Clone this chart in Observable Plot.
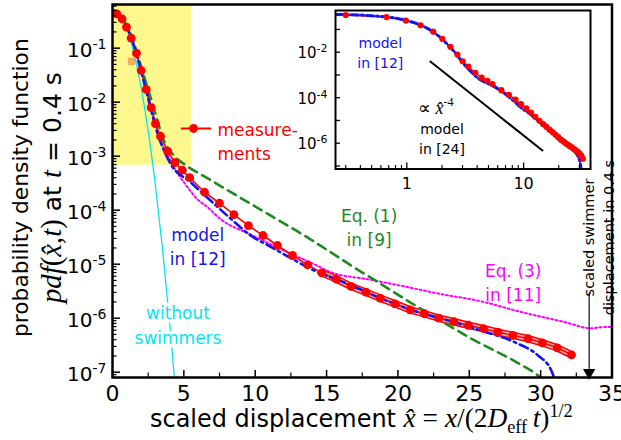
<!DOCTYPE html>
<html><head><meta charset="utf-8">
<script src="https://cdn.jsdelivr.net/npm/d3@7"></script>
<script src="https://cdn.jsdelivr.net/npm/@observablehq/plot@0.6"></script>
<style>
body{margin:0;background:#fff;}
#wrap{position:relative;width:621px;height:440px;}
#inset{position:absolute;left:290px;top:0;}
text{white-space:pre;}
</style></head><body>
<div id="wrap"><div id="main"></div><div id="inset"></div></div>
<script>
// ---------- data ----------
const measX = [0.30,0.67,0.98,1.31,1.68,2.01,2.36,2.71,3.01,3.36,3.86,4.37,4.89,5.41,6.45,7.49,8.51,9.52,10.55,11.56,12.61,13.67,14.67,15.69,16.71,17.76,18.76,19.80,20.85,21.85,22.87,23.92,24.94,26.00,27.00,28.06,29.11,30.12,31.17,32.16];
const measPdf = [0.43,0.35,0.245,0.153,0.081,0.0386,0.0172,0.0079,0.0040,0.00234,0.00124,7.6e-4,5.5e-4,4.0e-4,2.15e-4,1.35e-4,8.3e-5,5.2e-5,3.4e-5,2.22e-5,1.45e-5,9.7e-6,6.9e-6,5.3e-6,3.9e-6,3.03e-6,2.35e-6,1.85e-6,1.43e-6,1.21e-6,1.0e-6,8.6e-7,7.4e-7,6.4e-7,5.5e-7,4.8e-7,4.2e-7,3.5e-7,2.83e-7,2.1e-7];

const eq1X = [0,0.5,1.0,1.5,1.84,2.3,2.66,3.1,3.6,4.3,5.24,6.52,8.0,10.86,13.0,15.3,16.71,18.81,20.5,22.32,25.13,28.41,29.82,30.5];
const eq1Pdf = [0.50,0.42,0.26,0.126,0.064,0.025,0.0124,0.005,1.95e-3,1.03e-3,6.5e-4,4.1e-4,2.4e-4,8.6e-5,4.0e-5,1.66e-5,9.5e-6,4.3e-6,2.25e-6,1.15e-6,4.2e-7,1.48e-7,8.7e-8,6.0e-8];

const model12X = [0,0.25,0.5,1.0,1.5,2.0,2.54,3.13,3.6,4.07,5.47,6.87,8.3,9.68,11.1,12.5,13.9,16.7,18.8,20.85,23.96,25.83,28.17,29.82,30.75,31.1];
const model12Pdf = [0.50,0.46,0.40,0.245,0.112,0.038,0.0107,2.75e-3,1.29e-3,7.2e-4,3.3e-4,1.51e-4,6.9e-5,3.4e-5,2.1e-5,1.29e-5,8.2e-6,4.1e-6,2.34e-6,1.45e-6,8.4e-7,5.9e-7,3.6e-7,2.04e-7,1.07e-7,6.0e-8];

const eq3X = [0,1.0,2.0,2.7,3.3,3.83,4.30,5.24,5.94,6.64,7.58,9.68,11.8,14.13,15.31,18.0,20.2,23.0,25.84,28.41,31.66,33.56,34.2,35.0];
const eq3Pdf = [0.52,0.245,0.040,8.3e-3,2.2e-3,1.1e-3,6.3e-4,2.7e-4,1.6e-4,1.15e-4,6.8e-5,3.55e-5,1.9e-5,1.0e-5,7.1e-6,5.2e-6,4.0e-6,2.8e-6,2.05e-6,1.35e-6,8.5e-7,6.5e-7,6.8e-7,6.9e-7];

const noSwimX = [0,0.5,1.0,1.5,2.0,2.5,3.0,3.5,4.0,4.5];
const noSwimPdf = [0.54,0.44,0.235,0.083,0.019,2.95e-3,2.95e-4,2.0e-5,8.7e-7,2.5e-8];

const slopeX = [1.59,14.5];          // inset: proportional to x^-4
const slopePdf = [3.9e-3,4.8e-7];

const highlightX = [0,5.56];          // yellow region
const highlightPdf = [6.8e-4,0.644];
const swimmerDisp = [33.4];           // scaled swimmer displacement in 0.4 s
const bandStart = 14.6;               // start of the shaded uncertainty band

const xTicks = [0,5,10,15,20,25,30,35];
const xTickLabels = ["0","5","10","15","20","25","30","35"];
const xMinor = [2.5,7.5,12.5,17.5,22.5,27.5,32.5];
const yTicks = [1e-1,1e-2,1e-3,1e-4,1e-5,1e-6,1e-7];
const yTickLabels = ["10^-1","10^-2","10^-3","10^-4","10^-5","10^-6","10^-7"];
const insetXTicks = [1,10];
const insetXTickLabels = ["1","10"];
const insetYTicks = [1e-2,1e-4,1e-6];
const insetYTickLabels = ["10^-2","10^-4","10^-6"];
const insetYDecades = [1e-1,1e-2,1e-3,1e-4,1e-5,1e-6,1e-7];

// ---------- build tables ----------
const zip = (xs, ys) => xs.map((x, i) => ({x, y: ys[i]}));
const meas = zip(measX, measPdf);
const eq1 = zip(eq1X, eq1Pdf);
const model12 = zip(model12X, model12Pdf);
const eq3 = zip(eq3X, eq3Pdf);
const noSwim = zip(noSwimX, noSwimPdf);
const slope = zip(slopeX, slopePdf);
const band = meas.filter(d => d.x >= bandStart);

const RED = "#ff0000", BLUE = "#1414f0", GREEN = "#1f8a1f", MAG = "#ff00ff", CYAN = "#00e8ee";

const W = 621, H = 440, mL = 112, mR = 9.5, mT = 4, mB = 63;
const plotW = W - mL - mR, plotH = H - mT - mB;
const xDomain = [0, 35];
const yDomain = [7.98e-8, 0.644];
const yMinor = d3.scaleLog().domain(yDomain).ticks().filter(v => !yTicks.some(t => Math.abs(v - t) / t < 1e-6));

const main = Plot.plot({
  width: W, height: H, marginLeft: mL, marginRight: mR, marginTop: mT, marginBottom: mB,
  style: {fontFamily: "DejaVu Sans", background: "white", overflow: "visible"},
  x: {domain: xDomain, axis: null},
  y: {type: "log", domain: yDomain, axis: null},
  marks: [
    Plot.rect([0], {x1: highlightX[0], x2: highlightX[1], y1: highlightPdf[0], y2: highlightPdf[1], fill: "#fcf88d"}),
    Plot.dot([0], {x: 1.33, y: 0.057, symbol: "square", r: 3.6, fill: "#f4ac62", stroke: "#e98a3a", strokeWidth: 0.6}),
    Plot.line(noSwim, {x: "x", y: "y", stroke: CYAN, strokeWidth: 1.3, curve: "natural", clip: true}),
    Plot.text(["without\nswimmers"], {x: 4.59, y: 7.98e-7, fill: CYAN, fontSize: 17, lineHeight: 1.45, stroke: "white", strokeWidth: 7, paintOrder: "stroke"}),
    Plot.line(eq3, {x: "x", y: "y", stroke: MAG, strokeWidth: 2, strokeDasharray: "2,2.5", clip: true, curve: "monotone-x"}),
    Plot.line(band, {x: "x", y: "y", stroke: RED, strokeWidth: 7.5, strokeLinecap: "round", clip: true}),
    Plot.line(band, {x: "x", y: "y", stroke: "#f6b4b4", strokeWidth: 4.5, strokeLinecap: "round", clip: true}),
    Plot.line(meas, {x: "x", y: "y", stroke: RED, strokeWidth: 1.6, clip: true}),
    Plot.line(eq1, {x: "x", y: "y", stroke: GREEN, strokeWidth: 2.6, strokeDasharray: "9,6", clip: true, curve: "monotone-x"}),
    Plot.line(model12, {x: "x", y: "y", stroke: BLUE, strokeWidth: 2.6, strokeDasharray: "9,4,2.5,4", clip: true, curve: "monotone-x"}),
    Plot.dot(meas, {x: "x", y: "y", r: 4.4, fill: RED}),
    // legend sample for the measurements
    Plot.line([4.84, 6.87], {x: d => d, y: () => 3.26e-3, stroke: RED, strokeWidth: 1.8}),
    Plot.dot([5.68], {x: d => d, y: () => 3.26e-3, r: 4.4, fill: RED}),
    Plot.text(["measure-\nments"], {x: 7.36, y: 1.95e-3, textAnchor: "start", fill: RED, fontSize: 17, lineHeight: 1.42}),
    Plot.text(["model\nin [12]"], {x: 5.97, y: 2.22e-5, fill: BLUE, fontSize: 17, lineHeight: 1.42}),
    Plot.text(["Eq. (1)\nin [9]"], {x: 17.98, y: 5.09e-5, fill: GREEN, fontSize: 17, lineHeight: 1.42}),
    Plot.text(["Eq. (3)\nin [11]"], {x: 28.08, y: 4.89e-6, fill: MAG, fontSize: 17, lineHeight: 1.42}),
    // swimmer displacement arrow
    Plot.ruleX(swimmerDisp, {x: d => d, y1: 2.9e-6, y2: yDomain[0], stroke: "#222", strokeWidth: 1.3}),
    Plot.dot(swimmerDisp, {x: d => d, y: () => yDomain[0], symbol: "triangle", r: 4.6, fill: "black", rotate: 180, dy: -5}),
    Plot.text(["scaled swimmer\ndisplacement in 0.4 s"], {x: 33.97, y: 3.12e-5, rotate: -90, fontSize: 14.5, lineHeight: 1.38, fill: "black"}),
    // ticks (inward)
    Plot.tickY(yTicks, {y: d => d, insetRight: plotW - 8, strokeWidth: 1.5}),
    Plot.tickY(yMinor, {y: d => d, insetRight: plotW - 4.5, strokeWidth: 1.2}),
    Plot.tickX(xTicks, {x: d => d, insetTop: plotH - 7, strokeWidth: 1.5}),
    Plot.tickX(xMinor, {x: d => d, insetTop: plotH - 4.5, strokeWidth: 1.2}),
    Plot.frame({stroke: "black", strokeWidth: 2.5}),
    Plot.text(yTickLabels, {y: (d, i) => yTicks[i], frameAnchor: "left", textAnchor: "end", dx: -6, dy: 2, fontSize: 20, fill: "black"}),
    Plot.text(xTickLabels, {x: (d, i) => xTicks[i], frameAnchor: "bottom", lineAnchor: "top", dy: 8, fontSize: 22, fill: "black"})
  ]
});
document.getElementById("main").appendChild(main);

const insX = [0.245, 37.4], insY = [7.35e-8, 0.681];
const insW = 310, insH = 200, iL = 45, iR = 10, iT = 10, iB = 31.5;
const insMinorX = d3.scaleLog().domain(insX).ticks().filter(v => !insetXTicks.some(t => Math.abs(v - t) / t < 1e-6));

const inset = Plot.plot({
  width: insW, height: insH, marginLeft: iL, marginRight: iR, marginTop: iT, marginBottom: iB,
  style: {fontFamily: "DejaVu Sans", background: "transparent", overflow: "visible"},
  x: {type: "log", domain: insX, axis: null},
  y: {type: "log", domain: insY, axis: null},
  marks: [
    Plot.frame({fill: "white"}),
    Plot.line(band, {x: "x", y: "y", stroke: RED, strokeWidth: 5, strokeLinecap: "round", clip: true}),
    Plot.line(meas, {x: "x", y: "y", stroke: RED, strokeWidth: 1.3, clip: true}),
    Plot.line(model12.filter(d => d.x > 0), {x: "x", y: "y", stroke: BLUE, strokeWidth: 3, strokeDasharray: "7,3,2,3", clip: true, curve: "monotone-x"}),
    Plot.dot(meas, {x: "x", y: "y", r: 3.1, fill: RED, clip: true}),
    Plot.line(slope, {x: "x", y: "y", stroke: "black", strokeWidth: 2}),
    Plot.text(["model\nin [12]"], {x: 0.593, y: 0.0111, fill: BLUE, fontSize: 14, lineHeight: 1.43}),
    Plot.text(["model\nin [24]"], {x: 2.0, y: 1.78e-6, fill: "black", fontSize: 14, lineHeight: 1.43}),
    Plot.tickY(insetYDecades, {y: d => d, insetRight: (insW - iL - iR) - 5, strokeWidth: 1.3}),
    Plot.tickX(insetXTicks, {x: d => d, insetTop: (insH - iT - iB) - 6, strokeWidth: 1.3}),
    Plot.tickX(insMinorX, {x: d => d, insetTop: (insH - iT - iB) - 3.5, strokeWidth: 1.1}),
    Plot.frame({stroke: "black", strokeWidth: 2}),
    Plot.text(insetYTickLabels, {y: (d, i) => insetYTicks[i], frameAnchor: "left", textAnchor: "end", dx: -8, dy: 1, fontSize: 15, fill: "black"}),
    Plot.text(insetXTickLabels, {x: (d, i) => insetXTicks[i], frameAnchor: "bottom", lineAnchor: "top", dy: 9, fontSize: 16, fill: "black"})
  ]
});
document.getElementById("inset").appendChild(inset);

// ---------- rich text (superscripts, math) ----------
const NS = "http://www.w3.org/2000/svg";
function supify(svgEl, supSize, raise) {
  Array.from(svgEl.querySelectorAll("text")).forEach(t => {
    if (t.children.length) return;
    const s = t.textContent, i = s.indexOf("^");
    if (i < 0) return;
    t.textContent = "";
    const a = document.createElementNS(NS, "tspan"); a.textContent = s.slice(0, i);
    const b = document.createElementNS(NS, "tspan"); b.textContent = s.slice(i + 1);
    b.setAttribute("font-size", supSize); b.setAttribute("dy", -raise);
    t.append(a, b);
  });
}
supify(main, 14, 8);
supify(inset, 11, 6);

const M = {"font-family": "Liberation Serif", "font-style": "italic"};
const R = {"font-family": "Liberation Serif"};
function rich(svgEl, parts, size, anchor) {
  const t = d3.select(svgEl).append("text").attr("font-size", size).attr("fill", "black").attr("text-anchor", anchor || "start");
  parts.forEach(([s, a]) => { const sp = t.append("tspan").text(s); for (const k in (a || {})) sp.attr(k, a[k]); });
  return t;
}
function fit(t, target, tf) {
  const len = t.node().getComputedTextLength();
  const k = Math.max(0.75, Math.min(1.3, target / len));
  t.attr("transform", `${tf} scale(${k})`);
}
// x-axis title
const xt = rich(main, [
  ["scaled displacement "],
  ["x\u0302", {...M, "font-size": 24}],
  [" = ", {...R, "font-size": 24}],
  ["x", {...M, "font-size": 24}],
  ["/(2", {...R, "font-size": 24}],
  ["D", {...M, "font-size": 24}],
  ["eff", {...R, "font-size": 16, dy: 5}],
  ["\u2009t", {...M, "font-size": 24, dy: -5}],
  [")", {...R, "font-size": 24}],
  ["1/2", {...R, "font-size": 16, dy: -9}]
], 21);
fit(xt, 423, "translate(150,427)");
// y-axis title
const yt1 = rich(main, [["probability density function"]], 21);
fit(yt1, 299, "translate(28,337) rotate(-90)");
const yt2 = rich(main, [
  ["pdf", {...M, "font-size": 24}],
  ["(", {...R, "font-size": 24}],
  ["x\u0302", {...M, "font-size": 24}],
  [",", {...R, "font-size": 24}],
  ["t", {...M, "font-size": 24}],
  [")", {...R, "font-size": 24}],
  [" at "],
  ["t", {...M, "font-size": 24}],
  [" = 0.4 s"]
], 21);
fit(yt2, 231, "translate(61,303) rotate(-90)");
// inset proportionality label
const isx = inset.scale("x"), isy = inset.scale("y");
const pl = rich(inset, [
  ["\u221D ", {...R, "font-size": 18}],
  ["x\u0302", {...M, "font-size": 18}],
  ["-4", {...R, "font-size": 12, dy: -8}]
], 18, "middle");
pl.attr("x", isx.apply(1.79)).attr("y", isy.apply(3.4e-5) + 6);
</script>
</body></html>
